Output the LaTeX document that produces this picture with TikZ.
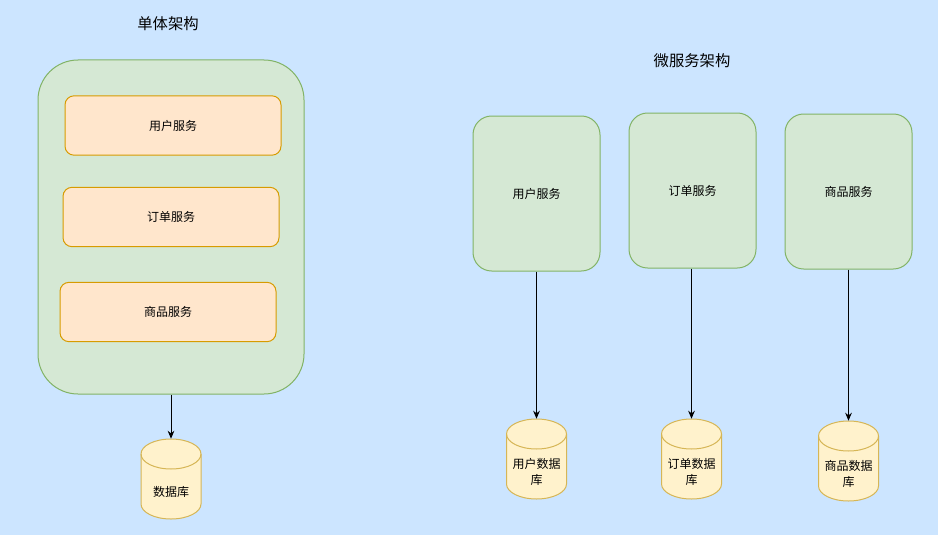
\documentclass[tikz,border=0pt]{standalone}
\usepackage{fontspec}
\newfontfamily\cjk{Noto Sans CJK SC}
\usetikzlibrary{arrows.meta}
\definecolor{bg}{HTML}{CCE5FF}
\definecolor{gfill}{HTML}{D5E8D4}
\definecolor{gline}{HTML}{82B366}
\definecolor{ofill}{HTML}{FFE6CC}
\definecolor{oline}{HTML}{D79B00}
\definecolor{yfill}{HTML}{FFF2CC}
\definecolor{yline}{HTML}{D6B656}
\tikzset{
  lbl/.style={font=\cjk\fontsize{9}{12}\selectfont, align=center, inner sep=0pt},
  ttl/.style={font=\cjk\fontsize{11.5}{14}\selectfont, inner sep=0pt},
  bigbox/.style={draw=gline, fill=gfill, line width=0.75pt, rounded corners=30pt, minimum width=199.5pt, minimum height=250.5pt},
  svcbox/.style={draw=oline, fill=ofill, line width=0.75pt, rounded corners=6.75pt, minimum width=162pt, minimum height=44.5pt, lbl},
  msbox/.style={draw=gline, fill=gfill, line width=0.75pt, rounded corners=14pt, minimum width=95.25pt, minimum height=116.25pt, lbl},
  cylbox/.style={minimum width=45pt, minimum height=60pt, inner sep=0pt},
  cylstyle/.style={draw=yline, fill=yfill, line width=0.75pt},
  conn/.style={draw=black, line width=0.75pt, -{Stealth[length=6pt, width=5pt]}},
}
\newcommand\cylshape[3]{%
  \filldraw[cylstyle] (#1-30,#3-15) arc[start angle=180,end angle=360,x radius=22.5pt,y radius=11.25pt]
     -- (#1+30,#2+15) arc[start angle=0,end angle=180,x radius=22.5pt,y radius=11.25pt] -- cycle;
  \draw[cylstyle, fill=none] (#1-30,#2+15) arc[start angle=180,end angle=360,x radius=22.5pt,y radius=11.25pt];
}
\begin{document}
\begin{tikzpicture}[x=0.75pt, y=-0.75pt]
\fill[bg] (0,0) rectangle (938,535);
\useasboundingbox (0,0) rectangle (938,535);

% monolith
\node[ttl] (t1) at (168,24) {单体架构};
\node[bigbox] (mono) at (171,227) {};
\node[svcbox] (u1) at (173,125.5) {用户服务};
\node[svcbox] (o1) at (171,217) {订单服务};
\node[svcbox] (p1) at (168,312) {商品服务};
\cylshape{171}{439}{519}
\node[cylbox] (db) at (171,479) {};
\node[lbl] (dbt) at (171,492) {数据库};
\draw[conn] (mono.south) -- (db.north);

% microservices
\node[ttl] (t2) at (692,61) {微服务架构};
\node[msbox] (u2) at (536.5,193.5) {用户服务};
\node[msbox] (o2) at (692.5,190.5) {订单服务};
\node[msbox] (p2) at (848.5,191.5) {商品服务};

\cylshape{536.5}{419}{499}
\node[cylbox] (udb) at (536.5,459) {};
\node[lbl] (udbt) at (536.5,472) {用户数据\\库};
\cylshape{691.5}{419}{499}
\node[cylbox] (odb) at (691.5,459) {};
\node[lbl] (odbt) at (691.5,472) {订单数据\\库};
\cylshape{848.5}{421}{501}
\node[cylbox] (pdb) at (848.5,461) {};
\node[lbl] (pdbt) at (848.5,474) {商品数据\\库};

\draw[conn] (u2.south) -- (u2.south |- udb.north);
\draw[conn] (o2.south -| odb.north) -- (odb.north);
\draw[conn] (p2.south) -- (pdb.north);
\end{tikzpicture}
\end{document}
